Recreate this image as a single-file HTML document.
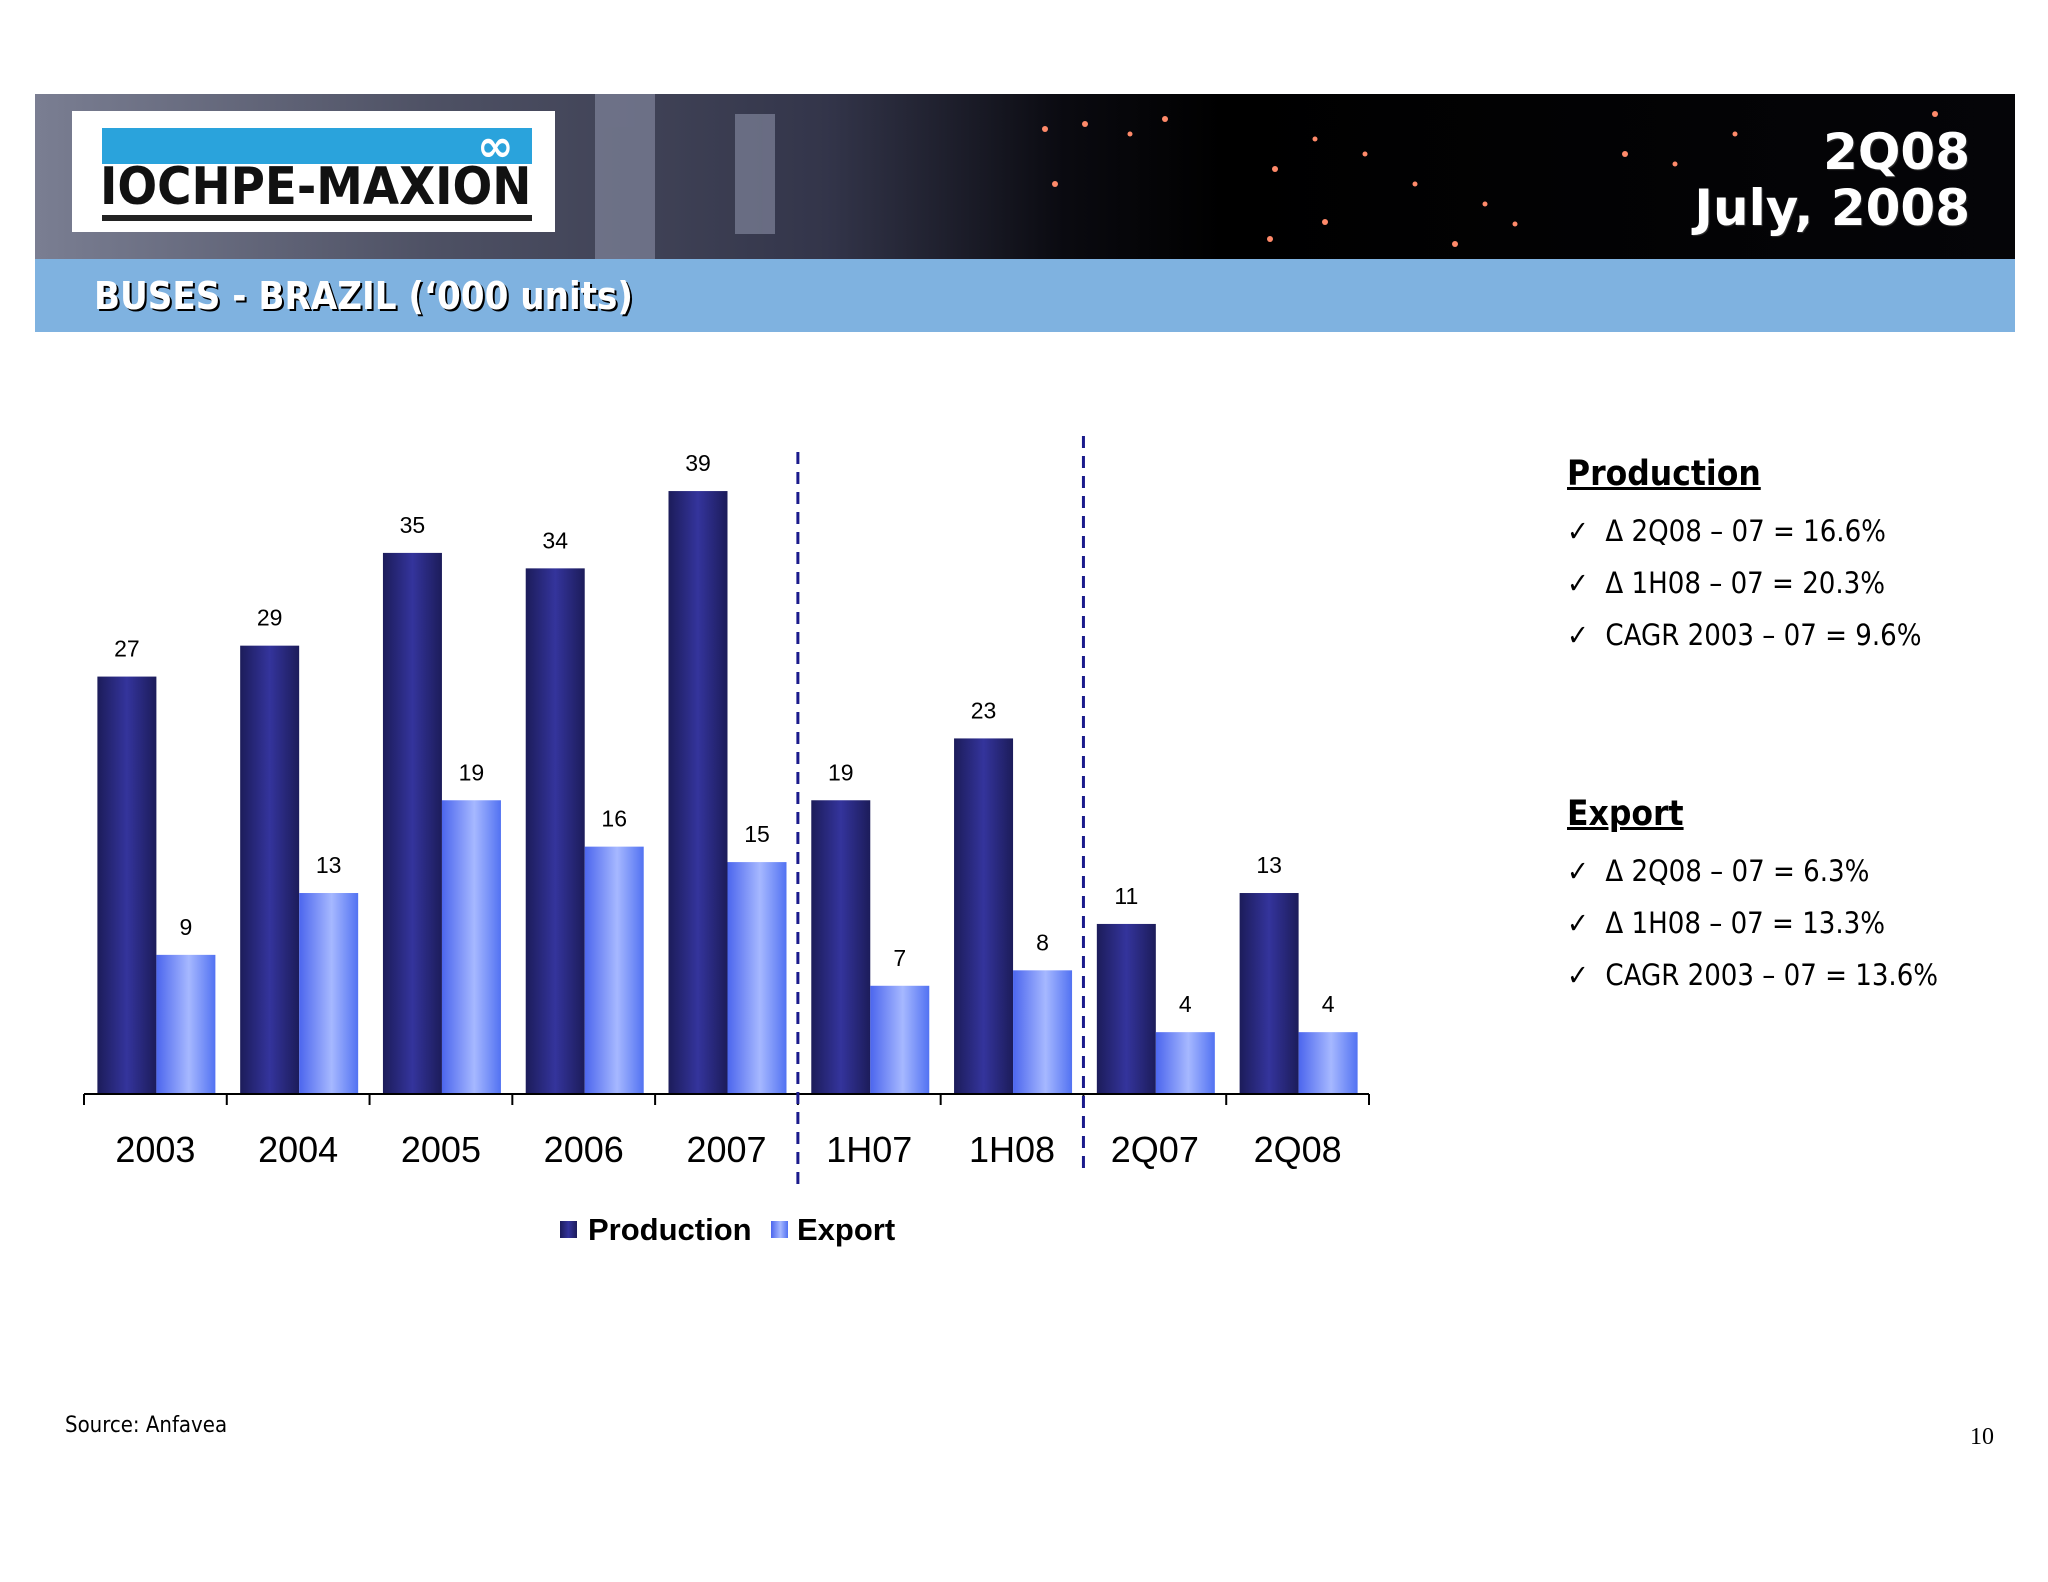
<!DOCTYPE html>
<html><head><meta charset="utf-8"><style>
html,body{margin:0;padding:0;background:#fff;}
body{width:2048px;height:1582px;position:relative;overflow:hidden;font-family:"Liberation Sans",sans-serif;}
.abs{position:absolute;}
.hdr{left:35px;top:94px;width:1980px;height:165px;background:linear-gradient(90deg,#7a7e92 0%,#4e5164 20%,#33354a 40%,#0a0a10 52%,#000 60%,#050508 100%);}
.band{left:35px;top:259px;width:1980px;height:73px;background:#7fb2e0;}
.title{left:94px;top:274px;font:bold 38px "DejaVu Sans Condensed","DejaVu Sans",sans-serif;color:#fff;text-shadow:2px 2px 0 #000;}
.date{right:78px;top:124px;text-align:right;font:bold 50px "DejaVu Sans",sans-serif;color:#fff;line-height:56px;text-shadow:1px 1px 1px #333;}
.logo{left:72px;top:111px;width:483px;height:121px;background:#fff;}
.side{left:1567px;font-family:"DejaVu Sans Condensed","DejaVu Sans",sans-serif;color:#000;}
.h{font-weight:bold;font-size:35px;text-decoration:underline;text-decoration-thickness:3px;}
.b{font-size:29px;}
</style></head><body>
<div class="abs hdr">
 <svg width="1980" height="165" style="position:absolute;left:0;top:0">
  <g fill="#ff8a6a">
   <circle cx="1010" cy="35" r="3"/><circle cx="1050" cy="30" r="3"/><circle cx="1095" cy="40" r="2.5"/><circle cx="1130" cy="25" r="3"/><circle cx="1020" cy="90" r="3"/><circle cx="1240" cy="75" r="3"/><circle cx="1280" cy="45" r="2.5"/><circle cx="1290" cy="128" r="3"/><circle cx="1235" cy="145" r="3"/><circle cx="1380" cy="90" r="2.5"/><circle cx="1420" cy="150" r="3"/><circle cx="1480" cy="130" r="2.5"/><circle cx="1590" cy="60" r="3"/><circle cx="1640" cy="70" r="2.5"/><circle cx="1700" cy="40" r="2.5"/><circle cx="1900" cy="20" r="3"/><circle cx="1450" cy="110" r="2.5"/><circle cx="1330" cy="60" r="2.5"/>
  </g>
  <g fill="#8a8fa6" opacity="0.6"><rect x="560" y="0" width="60" height="165"/><rect x="700" y="20" width="40" height="120"/><rect x="430" y="50" width="80" height="60"/></g>
 </svg>
</div>
<div class="abs logo">
 <div class="abs" style="left:30px;top:17px;width:430px;height:36px;background:#2aa3dc"></div>
 <div class="abs" style="left:405px;top:10px;font:bold 44px 'DejaVu Sans';color:#fff">∞</div>
 <div class="abs" style="left:28px;top:46px;font:bold 52px 'DejaVu Sans Condensed','DejaVu Sans',sans-serif;color:#111;letter-spacing:0px;white-space:nowrap">IOCHPE-MAXION</div>
 <div class="abs" style="left:30px;top:104px;width:430px;height:6px;background:#222"></div>
</div>
<div class="abs date">2Q08<br>July, 2008</div>
<div class="abs band"></div>
<div class="abs title">BUSES - BRAZIL (‘000 units)</div>

<svg id="chart" class="abs" style="left:0;top:0" width="2048" height="1582">
 <defs>
  <linearGradient id="gp" x1="0" x2="1" y1="0" y2="0"><stop offset="0" stop-color="#1c1c5a"/><stop offset="0.5" stop-color="#34349c"/><stop offset="1" stop-color="#1c1c5a"/></linearGradient>
  <linearGradient id="ge" x1="0" x2="1" y1="0" y2="0"><stop offset="0" stop-color="#4c66ee"/><stop offset="0.55" stop-color="#a6b8ff"/><stop offset="1" stop-color="#5272f2"/></linearGradient>
 </defs>
</svg>

<div class="abs side h" style="top:454px">Production</div>
<div class="abs side b" style="top:514px">✓&nbsp; Δ 2Q08 – 07 = 16.6%</div>
<div class="abs side b" style="top:566px">✓&nbsp; Δ 1H08 – 07 = 20.3%</div>
<div class="abs side b" style="top:618px">✓&nbsp; CAGR 2003 – 07 = 9.6%</div>
<div class="abs side h" style="top:794px">Export</div>
<div class="abs side b" style="top:854px">✓&nbsp; Δ 2Q08 – 07 = 6.3%</div>
<div class="abs side b" style="top:906px">✓&nbsp; Δ 1H08 – 07 = 13.3%</div>
<div class="abs side b" style="top:958px">✓&nbsp; CAGR 2003 – 07 = 13.6%</div>

<div class="abs" style="left:65px;top:1413px;font:22px 'DejaVu Sans Condensed','DejaVu Sans',sans-serif">Source: Anfavea</div>
<div class="abs" style="left:1970px;top:1424px;font:24px 'Liberation Serif',serif">10</div>

<script>
const categories = ["2003","2004","2005","2006","2007","1H07","1H08","2Q07","2Q08"];
const production = [27,29,35,34,39,19,23,11,13];
const exportVals = [9,13,19,16,15,7,8,4,4];
const dividerAfter = [4,6];

const svg = document.getElementById('chart');
const NS = 'http://www.w3.org/2000/svg';
const X0 = 84, X1 = 1369, BASE = 1094, PXU = 15.46;
const band = (X1 - X0) / categories.length;
const xCat = i => X0 + i * band;
const yVal = v => BASE - v * PXU;
const BW = 59;
function mk(tag, attrs){const e=document.createElementNS(NS,tag);for(const k in attrs)e.setAttribute(k,attrs[k]);svg.appendChild(e);return e;}

categories.forEach((c,i)=>{
  const cx = xCat(i) + band/2;
  const series = [[production[i],'url(#gp)','production'],[exportVals[i],'url(#ge)','export']];
  series.forEach((s,j)=>{
    const x = cx - BW + j*BW + 1;
    const r = mk('rect',{x:x,y:yVal(s[0]),width:BW,height:BASE-yVal(s[0]),fill:s[1]});
    
    
    const t = mk('text',{x:x+BW/2,y:yVal(s[0])-20,'text-anchor':'middle','font-size':23,'font-family':'Liberation Sans, sans-serif',fill:'#000'});
    t.textContent = s[0];
    
    
  });
  const l = mk('text',{x:cx,y:1162,'text-anchor':'middle','font-size':36,'font-family':'Liberation Sans, sans-serif',fill:'#000'});
  l.textContent = c;
  
  
});
const ax = mk('line',{x1:X0,x2:X1,y1:BASE,y2:BASE,stroke:'#000','stroke-width':2});


for(let i=0;i<=categories.length;i++){
  const tk = mk('line',{x1:xCat(i),x2:xCat(i),y1:BASE,y2:BASE+11,stroke:'#000','stroke-width':2});
  
  
}
const dTop=[452,436], dBot=[1186,1172];
dividerAfter.forEach((d,k)=>{
  const x = xCat(d+1);
  const dl = mk('line',{x1:x,x2:x,y1:dTop[k],y2:dBot[k],stroke:'#1a1a8c','stroke-width':3,'stroke-dasharray':'12 8'});
  
  
});
const lg = [['Production','url(#gp)',560,588],['Export','url(#ge)',771,797]];
lg.forEach(g=>{
  const sq = mk('rect',{x:g[2],y:1221,width:17,height:17,fill:g[1]});
  
  
  const t = mk('text',{x:g[3],y:1240,'font-size':31,'font-weight':'bold','font-family':'Liberation Sans, sans-serif',fill:'#000'});
  t.textContent = g[0];
  
  
});
</script>
</body></html>
